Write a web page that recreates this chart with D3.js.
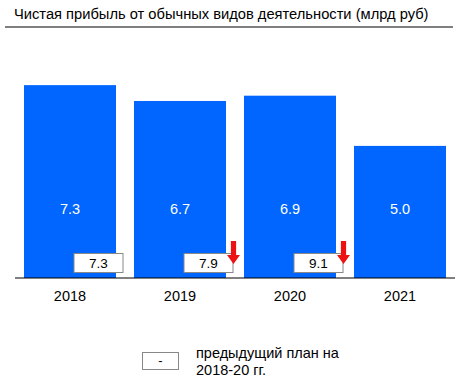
<!DOCTYPE html>
<html><head><meta charset="utf-8">
<script src="https://cdn.jsdelivr.net/npm/d3@7"></script>
<style>body{margin:0;background:#fff;} svg{display:block;font-family:"Liberation Sans",Arial,sans-serif;}</style>
</head><body>
<script>
const title = "Чистая прибыль от обычных видов деятельности (млрд руб)";
const years = ["2018", "2019", "2020", "2021"];
const values = [7.3, 6.7, 6.9, 5.0];
const planValues = [7.3, 7.9, 9.1, null];
const planDown = [false, true, true, false];
const legendLines = ["предыдущий план на", "2018-20 гг."];

const W = 471, H = 383;
const svg = d3.select("body").append("svg").attr("width", W).attr("height", H);

svg.append("text").attr("x", 14).attr("y", 19).attr("font-size", 14.7).attr("fill", "#000").text(title);
svg.append("line").attr("x1", 5).attr("x2", 453).attr("y1", 27).attr("y2", 27).attr("stroke", "#000").attr("stroke-width", 1.2);

const x = d3.scaleBand().domain(years).range([15, 455]).paddingInner(18/110).paddingOuter(9/110);
const y = d3.scaleLinear().domain([0, 9.5]).range([278, 27]);

svg.selectAll("rect.bar").data(values).enter().append("rect")
  .attr("x", (d,i) => x(years[i])).attr("y", d => y(d))
  .attr("width", x.bandwidth()).attr("height", d => y(0) - y(d))
  .attr("fill", "#0066ff");

svg.selectAll("text.val").data(values).enter().append("text")
  .attr("x", (d,i) => x(years[i]) + x.bandwidth()/2).attr("y", 214)
  .attr("text-anchor", "middle").attr("font-size", 14.5).attr("fill", "#fff")
  .text(d => d.toFixed(1));

// plan boxes
values.forEach((v, i) => {
  const p = planValues[i];
  if (p == null) return;
  const bx = x(years[i]) + 50;
  const g = svg.append("g");
  g.append("rect").attr("x", bx).attr("y", 253.5).attr("width", 49).attr("height", 19)
    .attr("fill", "#fff").attr("stroke", "#888").attr("stroke-width", 1);
  g.append("text").attr("x", bx + 24.5).attr("y", 268).attr("text-anchor", "middle")
    .attr("font-size", 13.5).attr("fill", "#000").text(p.toFixed(1));
  if (planDown[i]) {
    const ax = x(years[i]) + x.bandwidth() + 7.5;
    const top = 241, headY = 255, tip = 264;
    g.append("path")
      .attr("d", `M${ax-2.6},${top} L${ax+2.6},${top} L${ax+2.6},${headY} L${ax+6.5},${headY} L${ax},${tip} L${ax-6.5},${headY} L${ax-2.6},${headY} Z`)
      .attr("fill", "#ee1111");
  }
});

svg.append("line").attr("x1", 15).attr("x2", 455).attr("y1", y(0)).attr("y2", y(0)).attr("stroke", "#000").attr("stroke-width", 1.2);

svg.selectAll("text.yr").data(years).enter().append("text")
  .attr("x", d => x(d) + x.bandwidth()/2).attr("y", 301)
  .attr("text-anchor", "middle").attr("font-size", 14.5).attr("fill", "#000").text(d => d);

// legend
svg.append("rect").attr("x", 142.5).attr("y", 352.5).attr("width", 36).attr("height", 17)
  .attr("fill", "#fff").attr("stroke", "#888");
svg.append("text").attr("x", 160.5).attr("y", 365).attr("text-anchor", "middle").attr("font-size", 13).text("-");
svg.selectAll("text.leg").data(legendLines).enter().append("text")
  .attr("x", 196).attr("y", (d,i) => 358 + i*17).attr("font-size", 14.5).attr("fill", "#000").text(d => d);
</script>
</body></html>
